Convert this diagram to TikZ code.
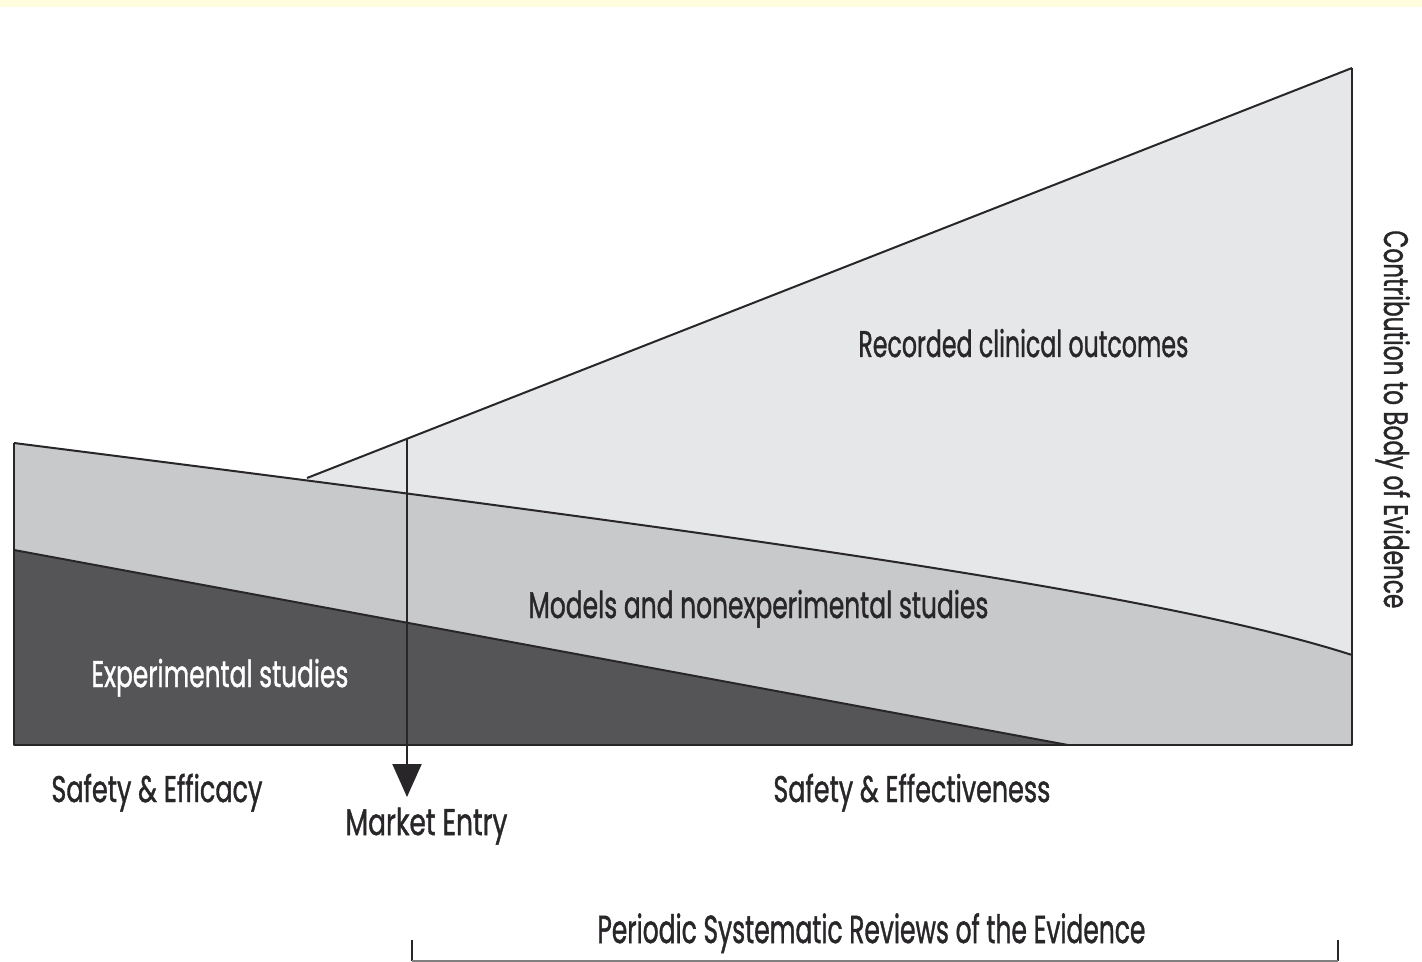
\documentclass[tikz,border=0pt]{standalone}
\usepackage{fontspec}
\usepackage{graphicx}
\setmainfont{Poppins}[FakeBold=1.3]
\usetikzlibrary{arrows.meta}
\definecolor{darkfill}{RGB}{85,85,88}
\definecolor{midfill}{RGB}{200,201,203}
\definecolor{lightfill}{RGB}{230,231,232}
\definecolor{inkcol}{RGB}{40,38,40}
\definecolor{bandcol}{RGB}{255,253,222}
\newcommand\fitw[2]{\setbox0\hbox{#2}\pgfmathsetmacro\fitratio{(#1)/(\the\wd0)}\scalebox{\fitratio}[1]{\box0}}
\begin{document}
\begin{tikzpicture}[x=0.5pt,y=-0.5pt,
  outline/.style={draw=inkcol,line width=1pt,line join=round},
  lbl/.style={inner sep=0pt,anchor=base west,text=inkcol,font=\fontsize{18.5}{21}\selectfont},
]
\useasboundingbox (0,0) rectangle (1422,962);
\fill[white] (0,0) rectangle (1422,962);
\fill[bandcol] (0,0) rectangle (1422,7);
% regions
\fill[lightfill] (307,478) -- (1352,68) -- (1352,745) -- (307,745) -- cycle;
\fill[midfill] (14,443) .. controls (700,530) and (1150,590) .. (1352,655) -- (1352,745) -- (14,745) -- cycle;
\fill[darkfill] (14,550) -- (1068,745) -- (14,745) -- cycle;
% outlines
\coordinate (tl) at (14,443);
\coordinate (bl) at (14,745);
\coordinate (br) at (1352,745);
\coordinate (tr) at (1352,68);
\coordinate (rs) at (307,478);
\coordinate (cr) at (1352,655);
\coordinate (el) at (14,550);
\coordinate (er) at (1068,745);
\draw[outline] (rs) -- (tr);
\draw[outline] (tl) .. controls (700,530) and (1150,590) .. (cr);
\draw[outline] (el) -- (er);
\draw[outline] (tl) -- (bl) -- (br) -- (tr);
% market entry arrow
\coordinate (mtop) at (407,439);
\coordinate (mtip) at (407,797);
\draw[inkcol,line width=1pt,-{Triangle[width=14.5pt,length=16.5pt]}] (mtop) -- (mtip);
% labels
\node[lbl] (rec) at (858,357) {\fitw{165pt}{Recorded clinical outcomes}};
\node[lbl] (mod) at (528,618) {\fitw{230pt}{Models and nonexperimental studies}};
\node[lbl,text=white] (exp) at (91,687) {\fitw{128.5pt}{Experimental studies}};
\node[lbl] (se) at (51,802) {\fitw{105.5pt}{Safety \& Efficacy}};
\node[lbl] (me) at (345,835) {\fitw{81pt}{Market Entry}};
\node[lbl] (sef) at (773,802) {\fitw{138.5pt}{Safety \& Effectiveness}};
\node[lbl,font=\fontsize{19.5}{22}\selectfont] (psr) at (597,943) {\fitw{274pt}{Periodic Systematic Reviews of the Evidence}};
\node[lbl,rotate=-90,font=\fontsize{17}{20}\selectfont] (cbe) at (1384,230) {\fitw{189pt}{Contribution to Body of Evidence}};
% bracket
\coordinate (b1) at (412,940);
\coordinate (b2) at (412,961);
\coordinate (b3) at (1338,961);
\coordinate (b4) at (1338,940);
\draw[inkcol,line width=0.8pt] (b1) -- (b2);
\draw[inkcol,line width=0.8pt] (b4) -- (b3);
\draw[gray,line width=0.8pt] (b2) -- (b3);
\end{tikzpicture}
\end{document}
